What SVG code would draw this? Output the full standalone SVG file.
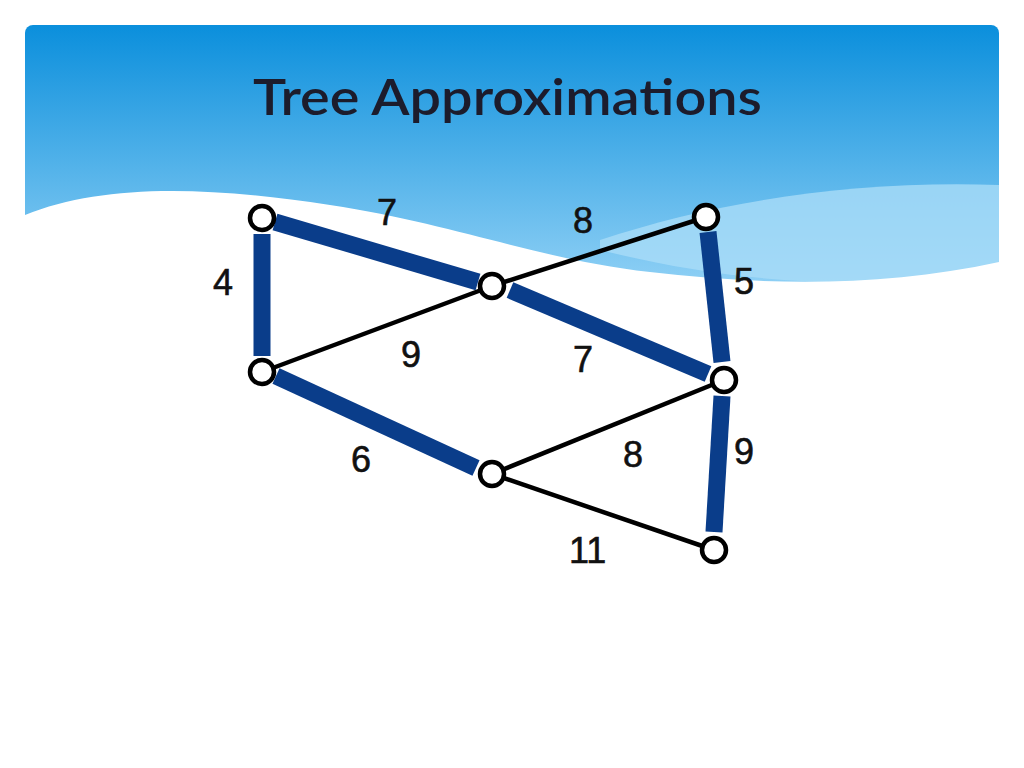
<svg xmlns="http://www.w3.org/2000/svg" width="1024" height="768" viewBox="0 0 1024 768">
<defs>
<linearGradient id="hg" x1="0" y1="0" x2="0" y2="1">
<stop offset="0" stop-color="#0b8fdc"/>
<stop offset="1" stop-color="#8fd0f5"/>
</linearGradient>
<clipPath id="hc"><rect x="25" y="25" width="974" height="300" rx="8"/></clipPath>
</defs>
<style>
.t{stroke:#0a3d8a;stroke-width:17;fill:none}
.n{stroke:#000;stroke-width:4.5;fill:none}
.v{fill:#fff;stroke:#000;stroke-width:4.5}
.l{font-family:"Liberation Sans",Arial,sans-serif;font-size:36px;fill:#111;stroke:#111;stroke-width:0.6}
</style>
<rect width="1024" height="768" fill="#fff"/>
<g clip-path="url(#hc)">
<path d="M25 25 H999 V285 H25 Z" fill="url(#hg)"/>
<path d="M600 240 C720 200 860 180 999 185 V265 C900 290 760 290 600 250 Z" fill="#a9dcf7" opacity="0.8"/>
<path d="M25 215 C100 185 200 185 330 205 C460 225 540 260 650 272 C760 285 880 288 999 262 V330 H25 Z" fill="#fff"/>
</g>
<text x="253" y="115" font-family="Lato,'Open Sans',sans-serif" font-size="50" font-weight="600" fill="#1c1c2c" textLength="509" lengthAdjust="spacingAndGlyphs">Tree Approximations</text>
<g id="edges">
<line class="t" x1="275" y1="222" x2="478" y2="282"/>
<line class="t" x1="262" y1="234" x2="262" y2="356"/>
<line class="t" x1="510" y1="290" x2="708" y2="374"/>
<line class="t" x1="708" y1="232" x2="722" y2="362"/>
<line class="t" x1="276" y1="376" x2="476" y2="468"/>
<line class="t" x1="722" y1="396" x2="714" y2="532"/>
<line class="n" x1="492" y1="286" x2="706" y2="217"/>
<line class="n" x1="492" y1="286" x2="262" y2="372"/>
<line class="n" x1="724" y1="380" x2="492" y2="474"/>
<line class="n" x1="492" y1="474" x2="714" y2="550"/>
</g>
<g id="nA"><circle class="v" cx="262" cy="218" r="12"/></g>
<g id="nB"><circle class="v" cx="492" cy="286" r="12"/></g>
<g id="nC"><circle class="v" cx="706" cy="217" r="12"/></g>
<g id="nD"><circle class="v" cx="262" cy="372" r="12"/></g>
<g id="nE"><circle class="v" cx="724" cy="380" r="12"/></g>
<g id="nF"><circle class="v" cx="492" cy="474" r="12"/></g>
<g id="nG"><circle class="v" cx="714" cy="550" r="12"/></g>
<g id="labels">
<text class="l" x="377" y="225">7</text>
<text class="l" x="573" y="233">8</text>
<text class="l" x="213" y="295">4</text>
<text class="l" x="734" y="294">5</text>
<text class="l" x="401" y="367">9</text>
<text class="l" x="573" y="372">7</text>
<text class="l" x="351" y="472">6</text>
<text class="l" x="623" y="467">8</text>
<text class="l" x="734" y="464">9</text>
<text class="l" x="569" y="563">11</text>
</g>
</svg>
